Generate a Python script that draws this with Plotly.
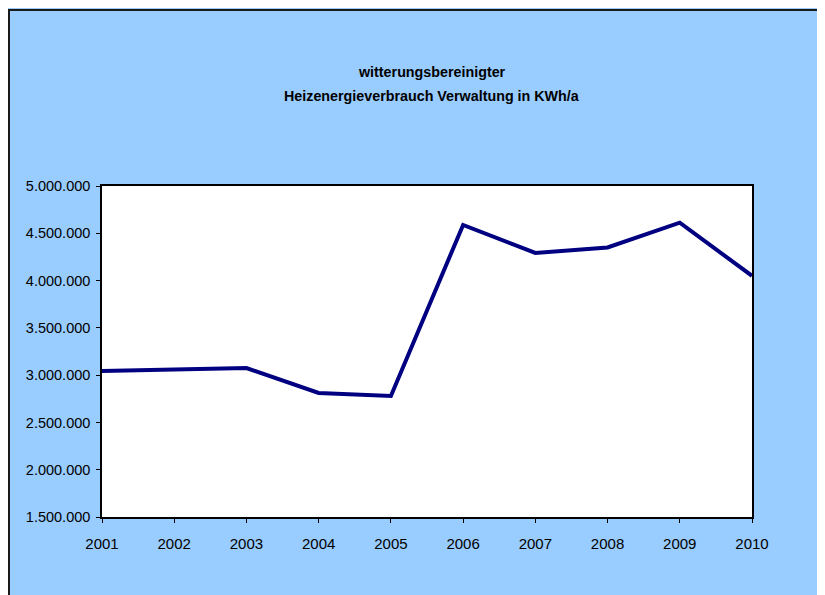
import plotly.graph_objects as go

years = [2001, 2002, 2003, 2004, 2005, 2006, 2007, 2008, 2009, 2010]
verbrauch = [3045000, 3065000, 3075000, 2812000, 2780000, 4588000, 4292000, 4350000, 4612000, 4050000]
title_lines = ["witterungsbereinigter", "Heizenergieverbrauch Verwaltung in KWh/a"]

OFF = 8  # page body offset
W, H = 825 - OFF, 595 - OFF
L, R, T, B = 102 - OFF, 752 - OFF, 186 - OFF, 517 - OFF
pw, ph = R - L, B - T

def px(x):
    return (x - OFF - L) / pw

def py(y):
    return (B - (y - OFF)) / ph

fig = go.Figure()
fig.add_trace(go.Scatter(x=years, y=verbrauch, mode="lines",
                         line=dict(color="#000080", width=4), hoverinfo="skip"))

shapes = [
    dict(type="rect", xref="paper", yref="paper", x0=px(9), x1=px(860), y0=py(640), y1=py(10),
         fillcolor="#99CCFF", line=dict(color="#1a1a1a", width=2), layer="below"),
    dict(type="rect", xref="paper", yref="paper", x0=0, x1=1, y0=0, y1=1,
         fillcolor="white", line=dict(width=0), layer="below"),
]

tfont = dict(family="Liberation Sans, Arial", size=14.3, color="black")
annotations = [
    dict(text="<b>%s</b>" % title_lines[0], xref="paper", yref="paper", x=px(432), y=py(72),
         xanchor="center", yanchor="middle", showarrow=False, font=tfont),
    dict(text="<b>%s</b>" % title_lines[1], xref="paper", yref="paper", x=px(432), y=py(96),
         xanchor="center", yanchor="middle", showarrow=False, font=tfont),
]

fig.update_layout(
    width=W, height=H,
    margin=dict(l=L, r=W - R, t=T, b=H - B, pad=0),
    paper_bgcolor="#99CCFF", plot_bgcolor="white",
    separators=",.",
    showlegend=False,
    shapes=shapes, annotations=annotations,
    font=dict(family="Liberation Sans, Arial", size=14.5, color="black"),
    xaxis=dict(range=[2001, 2010], tickvals=years, ticktext=[str(y) for y in years],
               showgrid=False, zeroline=False, showline=True, linecolor="black", linewidth=1.5,
               mirror=True, ticks="outside", ticklen=4, tickcolor="black",
               ticklabelstandoff=8, tickfont=dict(size=15)),
    yaxis=dict(range=[1500000, 5000000], dtick=500000, tick0=0, tickformat=",d",
               showgrid=False, zeroline=False, showline=True, linecolor="black", linewidth=1.5,
               mirror=True, ticks="outside", ticklen=4, tickcolor="black",
               ticklabelstandoff=3, tickfont=dict(size=14.5)),
)

fig.write_html("out.html")
